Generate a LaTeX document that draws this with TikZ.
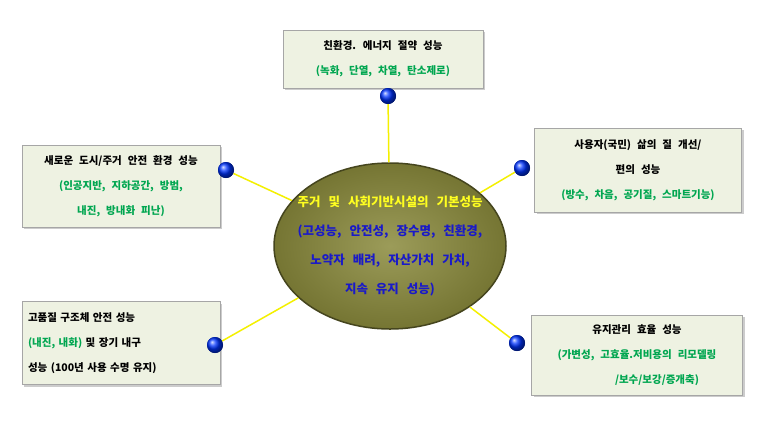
\documentclass[tikz,border=0pt]{standalone}
\usepackage{fontspec}
\setmainfont{Noto Sans CJK KR}[BoldFont={Noto Sans CJK KR Black}]
\usetikzlibrary{shadows,shapes.geometric}
\definecolor{boxfill}{HTML}{EEF2E2}
\definecolor{gtxt}{HTML}{00A650}
\definecolor{btxt}{HTML}{1A1AC8}
\definecolor{olive}{HTML}{8A8A3C}
\definecolor{ytxt}{HTML}{FFFF20}
\definecolor{lineyel}{HTML}{F4F000}
\newcommand{\myboxfont}{\bfseries\fontsize{10.5}{25}\selectfont\spaceskip=6pt\relax}
\newcommand{\myctfont}{\bfseries\fontsize{12.5}{29}\selectfont\spaceskip=8pt\relax}
\begin{document}
\begin{tikzpicture}[x=1pt,y=-1pt,
  infobox/.style={draw=gray!70,fill=boxfill,drop shadow={shadow xshift=2pt,shadow yshift=-2pt,opacity=0.4},
    align=center,font=\myboxfont,inner sep=0pt},
  ball/.style={circle,minimum size=16pt,inner sep=0pt,ball color=blue!80!cyan,draw=none},
  conn/.style={draw=lineyel,line width=1.5pt}]
\useasboundingbox (0,0) rectangle (760,429);
\fill[white] (0,0) rectangle (760,429);
% center
\node[ellipse,minimum width=232pt,minimum height=166pt,inner sep=0pt,
  draw=olive!50!black,line width=1.5pt,inner color=olive!85!white,outer color=olive!85!black] (c) at (390,246) {};
% boxes
\node[infobox,minimum width=200pt,minimum height=58pt] (top) at (383,59)
  {친환경. 에너지 절약 성능\\ \textcolor{gtxt}{(녹화, 단열, 차열, 탄소제로)}};
\node[infobox,minimum width=198pt,minimum height=82pt] (lu) at (121,186)
  {새로운 도시/주거 안전 환경 성능\\ \textcolor{gtxt}{(인공지반, 지하공간, 방범,}\\ \textcolor{gtxt}{내진, 방내화 피난)}};
\node[infobox,minimum width=207pt,minimum height=84pt] (ru) at (638,170)
  {사용자(국민) 삶의 질 개선/\\ 편의 성능\\ \textcolor{gtxt}{(방수, 차음, 공기질, 스마트기능)}};
\node[infobox,minimum width=198pt,minimum height=83pt,align=left,text width=186pt] (ld) at (121,343)
  {고품질 구조체 안전 성능\\ \textcolor{gtxt}{(내진, 내화)} 및 장기 내구\\ 성능 (100년 사용 수명 유지)};
\node[infobox,minimum width=211pt,minimum height=80pt] (rd) at (637,355)
  {유지관리 효율 성능\\ \textcolor{gtxt}{(가변성, 고효율.저비용의 리모델링}\\ \hspace*{40pt}\textcolor{gtxt}{/보수/보강/증개축)}};
% balls
\node[ball] (b1) at (388,96) {};
\node[ball] (b2) at (226,170) {};
\node[ball] (b3) at (522,168) {};
\node[ball] (b4) at (215,345) {};
\node[ball] (b5) at (517,343) {};
\draw[conn] (b1) -- (c);
\draw[conn] (b2) -- (c);
\draw[conn] (b3) -- (c);
\draw[conn] (b4) -- (c);
\draw[conn] (b5) -- (c);
\node[ball] at (b1) {};\node[ball] at (b2) {};\node[ball] at (b3) {};\node[ball] at (b4) {};\node[ball] at (b5) {};
\node[font=\myctfont,align=center] (ct) at (c)
  {\textcolor{ytxt}{주거 및 사회기반시설의 기본성능}\\
   \textcolor{btxt}{(고성능, 안전성, 장수명, 친환경,}\\
   \textcolor{btxt}{노약자 배려, 자산가치 가치,}\\
   \textcolor{btxt}{지속 유지 성능)}};
\end{tikzpicture}
\end{document}
